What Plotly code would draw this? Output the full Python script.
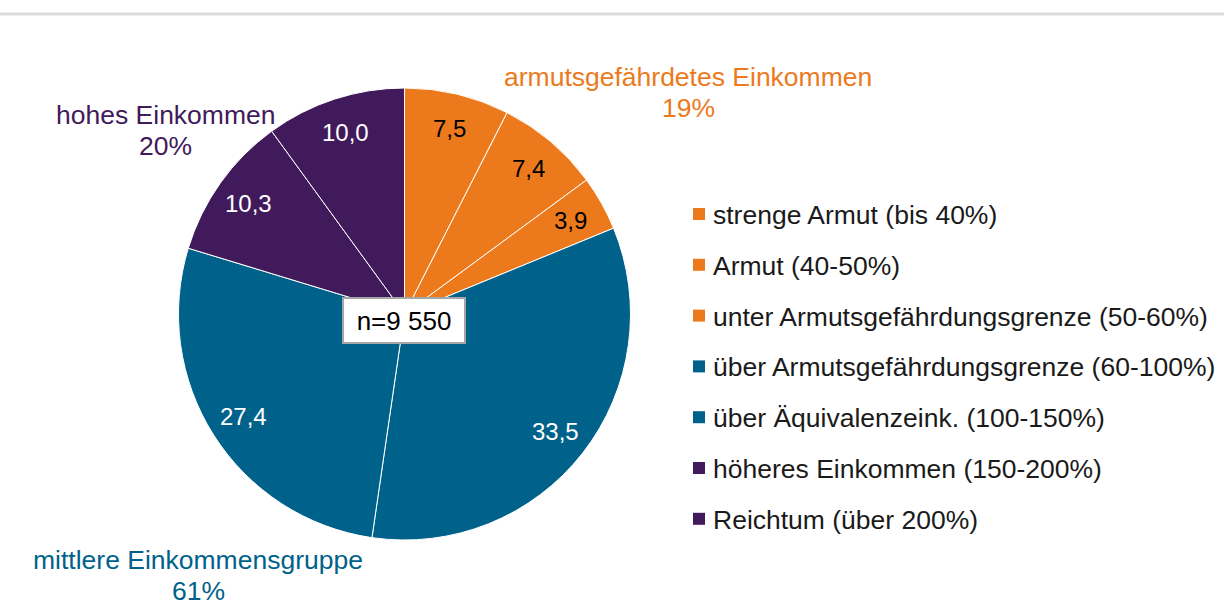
import math
import plotly.graph_objects as go

# ---------------- data ----------------
categories = [
    "strenge Armut (bis 40%)",
    "Armut (40-50%)",
    "unter Armutsgefährdungsgrenze (50-60%)",
    "über Armutsgefährdungsgrenze (60-100%)",
    "über Äquivalenzeink. (100-150%)",
    "höheres Einkommen (150-200%)",
    "Reichtum (über 200%)",
]
values = [7.5, 7.4, 3.9, 33.5, 27.4, 10.3, 10.0]
groups = ["armut", "armut", "armut", "mitte", "mitte", "hoch", "hoch"]
group_names = {
    "armut": "armutsgefährdetes Einkommen",
    "mitte": "mittlere Einkommensgruppe",
    "hoch": "hohes Einkommen",
}
sample_label = "n=9 550"

# ---------------- style ----------------
W, H = 1224, 609
FONT = "Liberation Sans, Arial, sans-serif"
group_colors = {"armut": "#EC7A1C", "mitte": "#00628A", "hoch": "#411A5C"}
inner_text_colors = {"armut": "#000000", "mitte": "#FFFFFF", "hoch": "#FFFFFF"}
slice_colors = [group_colors[g] for g in groups]

CX, CY, R = 404.5, 314.0, 226.0  # pie centre / radius in pixels
LABEL_R = 0.845


def px_to_paper(x, y):
    return x / W, 1 - y / H


fig = go.Figure()
fig.add_trace(
    go.Pie(
        labels=categories,
        values=values,
        sort=False,
        direction="clockwise",
        rotation=0,
        marker=dict(colors=slice_colors, line=dict(color="white", width=1)),
        textinfo="none",
        hoverinfo="label+value",
        showlegend=False,
        domain=dict(
            x=[(CX - R) / W, (CX + R) / W],
            y=[1 - (CY + R) / H, 1 - (CY - R) / H],
        ),
    )
)

annotations = []
shapes = []

# inner value labels, placed at the mid-angle of each slice
total = sum(values)
cum = 0.0
for v, g in zip(values, groups):
    theta = 2 * math.pi * (cum + v / 2) / total
    cum += v
    px = CX + LABEL_R * R * math.sin(theta)
    py = CY - LABEL_R * R * math.cos(theta)
    ax, ay = px_to_paper(px, py)
    annotations.append(
        dict(
            x=ax, y=ay, xref="paper", yref="paper",
            text=f"{v:.1f}".replace(".", ","),
            showarrow=False,
            font=dict(family=FONT, size=24, color=inner_text_colors[g]),
            xanchor="center", yanchor="middle",
        )
    )

# group labels outside the pie
group_label_pos = {"armut": (688, 77), "hoch": (165, 115), "mitte": (198, 560)}
for key, (gx, gy) in group_label_pos.items():
    share = sum(v for v, g in zip(values, groups) if g == key)
    for i, line in enumerate([group_names[key], f"{round(share)}%"]):
        ax, ay = px_to_paper(gx, gy + i * 31)
        annotations.append(
            dict(
                x=ax, y=ay, xref="paper", yref="paper",
                text=line, showarrow=False,
                font=dict(family=FONT, size=26.5, color=group_colors[key]),
                xanchor="center", yanchor="middle",
            )
        )

# sample size box
bx, by = px_to_paper(404, 320)
annotations.append(
    dict(
        x=bx, y=by, xref="paper", yref="paper",
        text=sample_label, showarrow=False,
        font=dict(family=FONT, size=26, color="#000000"),
        bgcolor="white", bordercolor="#A6A6A6", borderwidth=2,
        borderpad=1, width=118, height=41,
        xanchor="center", yanchor="middle",
    )
)

# manual legend
LEG_X, LEG_Y0, LEG_STEP = 711, 215, 50.8
for i, (cat, col) in enumerate(zip(categories, slice_colors)):
    ty = LEG_Y0 + i * LEG_STEP
    ax, ay = px_to_paper(LEG_X, ty)
    annotations.append(
        dict(
            x=ax, y=ay, xref="paper", yref="paper",
            text=cat, showarrow=False,
            font=dict(family=FONT, size=26.5, color="#1A1A1A"),
            xanchor="left", yanchor="middle",
        )
    )
    x0, y0 = px_to_paper(LEG_X - 18, ty - 7)
    x1, y1 = px_to_paper(LEG_X - 6, ty + 5)
    shapes.append(
        dict(type="rect", xref="paper", yref="paper",
             x0=x0, x1=x1, y0=y1, y1=y0,
             fillcolor=col, line=dict(width=0))
    )

# grey rule at the top
_, ly = px_to_paper(0, 14)
shapes.append(
    dict(type="line", xref="paper", yref="paper", x0=0, x1=1, y0=ly, y1=ly,
         line=dict(color="#DADDE0", width=3))
)

fig.update_layout(
    width=W, height=H,
    margin=dict(l=0, r=0, t=0, b=0),
    paper_bgcolor="white", plot_bgcolor="white",
    font=dict(family=FONT),
    annotations=annotations,
    shapes=shapes,
)

fig.write_html(
    "out.html",
    config={"displayModeBar": False},
    post_script="document.body.style.margin='0';document.body.style.padding='0';",
)
